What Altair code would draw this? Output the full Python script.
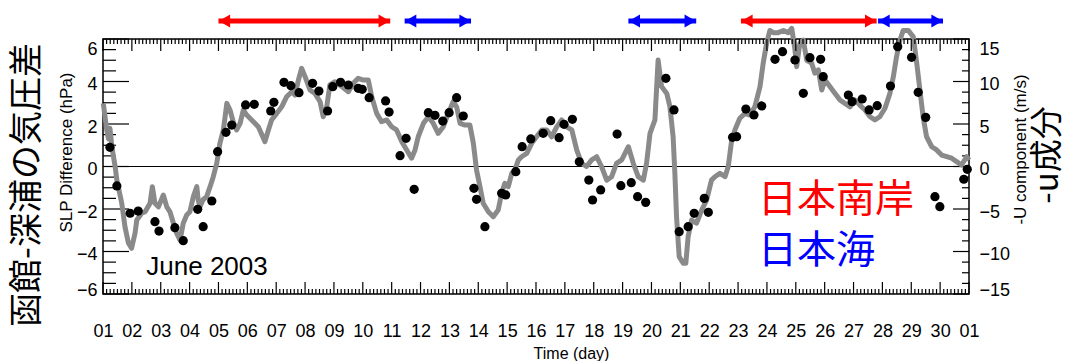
import altair as alt
import pandas as pd

# ---------------- data ----------------
line_day = [1.01, 1.13, 1.19, 1.24, 1.31, 1.42, 1.48, 1.65, 1.76, 1.88, 1.99, 2.11, 2.17, 2.34, 2.46, 2.63, 2.71, 2.80, 2.92,
            3.09, 3.21, 3.32, 3.44, 3.55, 3.67, 3.78, 3.90, 4.01, 4.13, 4.25, 4.30, 4.36, 4.47, 4.59, 4.71, 4.82, 4.94,
            5.05, 5.17, 5.29, 5.40, 5.51, 5.63, 5.75, 5.86, 5.98, 6.15, 6.38, 6.61, 6.73, 6.84, 7.02, 7.19, 7.36, 7.54,
            7.65, 7.77, 7.88, 8.00, 8.17, 8.34, 8.52, 8.63, 8.75, 8.86, 9.04, 9.27, 9.50, 9.67, 9.84, 10.02, 10.19, 10.31,
            10.48, 10.65, 10.83, 11.00, 11.17, 11.35, 11.52, 11.69, 11.81, 11.92, 12.10, 12.27, 12.44, 12.61, 12.79,
            12.96, 13.13, 13.25, 13.37, 13.54, 13.71, 13.83, 13.94, 14.06, 14.17, 14.35, 14.52, 14.69, 14.81, 14.92,
            15.04, 15.16, 15.27, 15.39, 15.50, 15.68, 15.85, 16.02, 16.20, 16.37, 16.54, 16.72, 16.89, 17.06, 17.24,
            17.41, 17.58, 17.75, 17.93, 18.10, 18.27, 18.45, 18.62, 18.79, 18.97, 19.20, 19.37, 19.54, 19.72, 19.83,
            19.95, 20.12, 20.23, 20.35, 20.53, 20.64, 20.75, 20.81, 20.87, 20.96, 21.10, 21.19, 21.27, 21.39, 21.56,
            21.74, 21.91, 22.08, 22.20, 22.37, 22.55, 22.66, 22.78, 22.89, 23.06, 23.24, 23.41, 23.58, 23.76, 23.87,
            23.99, 24.10, 24.22, 24.39, 24.57, 24.74, 24.86, 24.97, 25.03, 25.14, 25.26, 25.38, 25.55, 25.66, 25.78,
            25.90, 26.01, 26.18, 26.36, 26.53, 26.70, 26.88, 27.05, 27.22, 27.40, 27.57, 27.74, 27.91, 28.09, 28.26,
            28.38, 28.49, 28.61, 28.72, 28.90, 29.07, 29.19, 29.30, 29.41, 29.53, 29.71, 29.88, 30.05, 30.23, 30.40,
            30.57, 30.74, 30.92, 31.00]
line_slp = [2.97, 1.72, 1.30, 1.80, 0.90, 0.00, -0.64, -1.73, -2.83, -3.60, -3.85, -3.14, -2.52, -2.20, -2.13, -1.73, -0.95,
            -1.73, -1.90, -1.34, -1.90, -2.13, -2.67, -3.14, -3.46, -2.67, -2.28, -2.13, -1.42, -0.95, -1.60, -1.89,
            -1.55, -1.42, -0.95, -0.48, 0.15, 1.09, 1.72, 2.97, 2.66, 2.11, 1.72, 2.03, 2.66, 2.42, 2.19, 1.87, 1.17,
            1.72, 2.19, 2.50, 2.81, 3.28, 3.52, 3.36, 4.07, 4.62, 4.23, 3.60, 3.44, 3.05, 2.34, 2.81, 3.84, 3.99, 3.76,
            3.52, 3.92, 4.15, 4.07, 4.07, 3.28, 2.50, 2.11, 2.19, 1.87, 1.72, 1.17, 0.78, 0.39, 0.78, 1.40, 2.03, 2.34,
            2.03, 1.56, 1.87, 2.50, 3.05, 2.81, 2.03, 1.95, 1.95, 1.09, -0.16, -0.95, -1.73, -2.13, -2.36, -2.05, -1.26,
            -0.79, -0.95, -0.32, -0.16, 0.31, 0.46, 0.62, 1.09, 1.40, 1.72, 1.72, 1.40, 1.87, 2.19, 1.87, 1.72, 0.78,
            0.15, 0.00, 0.31, 0.46, 0.00, -0.64, -0.48, 0.15, 0.31, 0.93, 0.15, -0.48, -0.64, 0.15, 1.56, 2.19, 5.01,
            3.76, 3.44, 2.81, 1.40, -0.30, -2.40, -4.24, -4.55, -4.55, -3.30, -2.52, -2.67, -2.05, -1.58, -0.64, -0.48,
            -0.32, -0.48, 0.00, 1.25, 1.72, 2.27, 2.50, 2.42, 2.81, 3.76, 4.86, 5.80, 6.40, 6.30, 6.30, 6.40, 6.30, 6.50,
            5.50, 4.70, 5.80, 5.95, 5.00, 4.86, 4.39, 4.55, 3.60, 4.07, 3.76, 3.44, 3.13, 2.97, 2.81, 3.13, 2.89, 2.66,
            2.34, 2.19, 2.34, 2.74, 3.44, 4.23, 5.17, 5.95, 6.40, 6.40, 6.10, 4.86, 3.60, 2.34, 1.40, 0.93, 0.78, 0.54,
            0.46, 0.39, 0.23, 0.07, 0.46, 0.30]

dot_day = [1.24, 1.48, 1.94, 2.22, 2.80, 2.94, 3.49, 3.78, 4.28, 4.47, 4.77, 4.97, 5.26, 5.46, 5.94, 6.24, 6.81, 6.92,
           7.27, 7.51, 7.79, 8.26, 8.48, 8.78, 8.96, 9.23, 9.50, 9.84, 9.98, 10.22, 10.79, 10.91, 11.29, 11.50, 11.78,
           12.27, 12.50, 12.77, 12.99, 13.25, 13.48, 13.85, 13.94, 14.23, 14.81, 14.95, 15.30, 15.52, 15.82, 16.25,
           16.51, 16.80, 16.97, 17.26, 17.50, 17.83, 17.96, 18.24, 18.81, 18.94, 19.30, 19.52, 19.80, 20.50, 20.78,
           20.96, 21.27, 21.48, 21.83, 21.97, 22.81, 22.95, 23.27, 23.55, 23.82, 24.28, 24.54, 24.97, 25.26, 25.49,
           25.86, 25.95, 26.82, 26.95, 27.30, 27.54, 27.82, 28.28, 28.53, 29.01, 29.24, 29.50, 29.82, 29.99, 30.82,
           30.94]
dot_u = [2.26, -2.29, -5.50, -5.24, -6.49, -7.59, -7.20, -8.73, -5.04, -7.08, -4.06, 1.74, 4.02, 4.88, 7.24, 7.32, 6.53,
         7.55, 9.90, 9.51, 8.69, 9.79, 8.88, 6.53, 9.39, 9.90, 9.59, 9.20, 9.08, 8.10, 7.71, 6.41, 1.27, 3.32, -2.68,
         6.33, 6.02, 5.35, 6.33, 8.10, 5.94, -2.57, -3.86, -7.08, -3.16, -3.35, -0.61, 2.33, 3.24, 3.90, 5.39, 3.39,
         4.96, 5.55, 0.56, -1.59, -3.94, -2.76, 3.82, -2.26, -1.90, -3.55, -4.22, 10.37, 6.65, -7.67, -7.08, -5.51,
         -3.75, -5.39, 3.43, 3.51, 6.76, 6.06, 7.12, 12.61, 13.51, 12.53, 8.61, 12.80, 12.61, 10.57, 8.41, 7.63, 7.94,
         6.65, 7.16, 9.47, 14.10, 12.84, 8.73, 5.78, -3.55, -4.73, -1.50, -0.33]

arrow_start = [5.0, 11.45, 19.2, 23.1, 27.85]
arrow_end = [10.95, 13.75, 21.55, 27.8, 30.1]
arrow_color = ["#ff0000", "#0000ff", "#0000ff", "#ff0000", "#0000ff"]

# frame tick positions (axis values) and their lengths in px
x_tick_pos = [1 + i / 8 for i in range(241)]
x_tick_len = [12 if i % 8 == 0 else 5 for i in range(241)]
slp_tick_pos = [-6 + i * 0.5 for i in range(25)]
slp_tick_len = [26 if i % 4 == 0 else 13 for i in range(25)]
u_tick_pos = [-15 + i * 1.25 for i in range(25)]
u_tick_len = [16 if i % 4 == 0 else 7 for i in range(25)]

x_ticks = list(range(1, 32))
slp_ticks = [-6, -4, -2, 0, 2, 4, 6]
u_ticks = [-15, -10, -5, 0, 5, 10, 15]

# ---------------- layout ----------------
W, H = 866, 255
FONT = "Liberation Sans"
CJK = "Noto Sans CJK JP"

line_df = pd.DataFrame({"day": line_day, "slp": line_slp})
dot_df = pd.DataFrame({"day": dot_day, "u": dot_u})
arrow_df = pd.DataFrame({"start": arrow_start, "end": arrow_end, "color": arrow_color})
xt_df = pd.DataFrame({"day": x_tick_pos, "len": x_tick_len})
st_df = pd.DataFrame({"slp": slp_tick_pos, "len": slp_tick_len})
ut_df = pd.DataFrame({"u": u_tick_pos, "len": u_tick_len})
one = pd.DataFrame({"k": [0]})

xs = alt.Scale(domain=[1, 31], nice=False, zero=False)
ys = alt.Scale(domain=[-6, 6], nice=False, zero=False)
us = alt.Scale(domain=[-15, 15], nice=False, zero=False)

x_label_axis = alt.Axis(
    orient="bottom", values=x_ticks,
    labelExpr="datum.value > 30 ? '01' : (datum.value < 10 ? '0' + datum.value : '' + datum.value)",
    ticks=False, tickSize=0, domain=False, grid=False, labelFont=FONT, labelFontSize=18, labelColor="black",
    labelPadding=28, labelFlush=False, labelOverlap=False,
    title="Time (day)", titleFont=FONT, titleFontSize=16, titleFontWeight="normal", titleColor="black",
    titleX=468, titleY=59, titleAlign="center", titleBaseline="middle", titleAngle=0)

slp_label_axis = alt.Axis(
    orient="left", values=slp_ticks, ticks=False, tickSize=0, domain=False, grid=False,
    labelFont=FONT, labelFontSize=18, labelColor="black", labelPadding=6, labelOffset=3,
    labelFlush=True, labelFlushOffset=2, labelOverlap=False,
    title="SLP Difference (hPa)", titleFont=FONT, titleFontSize=17, titleFontWeight="normal", titleColor="black",
    titleX=-37, titleY=113, titleAngle=270, titleAlign="center", titleBaseline="middle")

u_label_axis = alt.Axis(
    orient="right", values=u_ticks, ticks=False, tickSize=0, domain=False, grid=False,
    labelFont=FONT, labelFontSize=18, labelColor="black", labelPadding=10, labelOffset=3,
    labelFlush=True, labelFlushOffset=2, labelOverlap=False,
    title="-U component (m/s)", titleFont=FONT, titleFontSize=17, titleFontWeight="normal", titleColor="black",
    titleX=51, titleY=110, titleAngle=270, titleAlign="center", titleBaseline="middle")

zero = alt.Chart(one).mark_rule(color="black", strokeWidth=1.2).encode(
    y=alt.Y("k:Q", scale=ys, axis=None))

line = alt.Chart(line_df).mark_line(color="#8a8a8a", strokeWidth=5, strokeJoin="round").encode(
    x=alt.X("day:Q", scale=xs, axis=x_label_axis),
    y=alt.Y("slp:Q", scale=ys, axis=slp_label_axis))

dots = alt.Chart(dot_df).mark_circle(color="black", size=85, opacity=1).encode(
    x=alt.X("day:Q", scale=xs, axis=None),
    y=alt.Y("u:Q", scale=us, axis=u_label_axis))

# inward frame ticks: length from the data, centre shifted half a length inside the frame
tick_bottom = alt.Chart(xt_df).transform_calculate(shift="-datum.len / 2").mark_tick(
    orient="vertical", thickness=1.2, color="black", opacity=1).encode(
    x=alt.X("day:Q", scale=xs, axis=None), y=alt.value(H),
    yOffset=alt.YOffset("shift:Q", scale=None), size=alt.Size("len:Q", scale=None))
tick_top = alt.Chart(xt_df).transform_calculate(shift="datum.len / 2").mark_tick(
    orient="vertical", thickness=1.2, color="black", opacity=1).encode(
    x=alt.X("day:Q", scale=xs, axis=None), y=alt.value(0),
    yOffset=alt.YOffset("shift:Q", scale=None), size=alt.Size("len:Q", scale=None))
tick_left = alt.Chart(st_df).transform_calculate(shift="datum.len / 2").mark_tick(
    orient="horizontal", thickness=1.2, color="black", opacity=1).encode(
    y=alt.Y("slp:Q", scale=ys, axis=None), x=alt.value(0),
    xOffset=alt.XOffset("shift:Q", scale=None), size=alt.Size("len:Q", scale=None))
tick_right = alt.Chart(ut_df).transform_calculate(shift="-datum.len / 2").mark_tick(
    orient="horizontal", thickness=1.2, color="black", opacity=1).encode(
    y=alt.Y("u:Q", scale=us, axis=None), x=alt.value(W),
    xOffset=alt.XOffset("shift:Q", scale=None), size=alt.Size("len:Q", scale=None))

shafts = alt.Chart(arrow_df).mark_rule(strokeWidth=5).encode(
    x=alt.X("start:Q", scale=xs, axis=None), x2="end:Q", y=alt.value(-18),
    color=alt.Color("color:N", scale=None))
head_l = alt.Chart(arrow_df).mark_point(shape="triangle-left", filled=True, size=170, opacity=1, xOffset=6).encode(
    x=alt.X("start:Q", scale=xs, axis=None), y=alt.value(-18), color=alt.Color("color:N", scale=None))
head_r = alt.Chart(arrow_df).mark_point(shape="triangle-right", filled=True, size=170, opacity=1, xOffset=-6).encode(
    x=alt.X("end:Q", scale=xs, axis=None), y=alt.value(-18), color=alt.Color("color:N", scale=None))


def label(text, x, y, font, size, color="black", angle=0, align="center"):
    return alt.Chart(one).mark_text(text=text, font=font, fontSize=size, color=color, angle=angle,
                                    align=align, baseline="middle").encode(x=alt.value(x), y=alt.value(y))


texts = [
    label("函館-深浦の気圧差", -75, 146, CJK, 34, angle=270),
    label("-u成分", 945, 116, CJK, 33, angle=270),
    label("June 2003", 104, 228, FONT, 26),
    label("日本南岸", 655, 161, CJK, 39, color="#ff0000", align="left"),
    label("日本海", 655, 212, CJK, 39, color="#0000ff", align="left"),
]

chart = alt.layer(tick_left, tick_right, zero, line, dots, shafts, head_l, head_r, *texts,
                  tick_bottom, tick_top).resolve_scale(
    x="independent", y="independent"
).properties(
    width=W, height=H,
    autosize=alt.AutoSizeParams(type="none"),
    padding={"left": 103, "top": 39, "right": 98, "bottom": 67},
    background="white",
).configure_view(stroke="black", strokeWidth=1.5)

chart.save("out.html", embed_options={"renderer": "svg", "actions": False})
